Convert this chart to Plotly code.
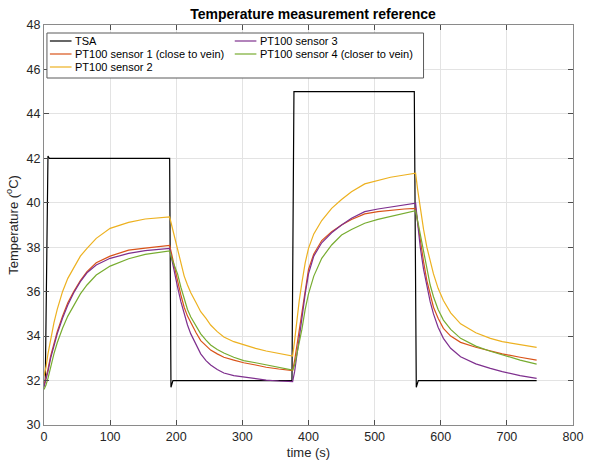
import plotly.graph_objects as go

# ---- data ----
t_tsa = [0, 2, 6, 8, 190, 192, 195, 375, 378, 560, 563, 566, 745]
v_tsa = [32.0, 32.0, 42.1, 42.0, 42.0, 31.7, 32.0, 32.0, 45.0, 45.0, 31.7, 32.0, 32.0]

t_s = [0, 3, 6, 10, 15, 20, 28, 36, 45, 55, 65, 79, 100, 128, 153, 175, 190,
       193, 197, 202, 207, 212, 217, 222, 230, 237, 245, 252, 262, 272, 287, 302, 320, 336, 355, 376,
       379, 382, 386, 390, 395, 400, 408, 420, 435, 450, 465, 485, 505, 524, 545, 562,
       565, 569, 574, 579, 584, 589, 596, 604, 615, 630, 653, 675, 693, 720, 745]

s1 = [31.8, 32.1, 32.5, 33.1, 33.7, 34.2, 34.9, 35.5, 36.0, 36.5, 36.9, 37.3, 37.6, 37.87, 37.96, 38.03, 38.08,
      37.7, 37.1, 36.5, 35.85, 35.3, 34.9, 34.6, 34.15, 33.8, 33.55, 33.37, 33.2, 33.05, 32.92, 32.8, 32.7, 32.6, 32.52, 32.45,
      32.9, 33.5, 34.3, 35.1, 36.2, 37.0, 37.7, 38.3, 38.7, 39.0, 39.25, 39.5, 39.6, 39.67, 39.72, 39.75,
      39.1, 38.3, 37.35, 36.5, 35.85, 35.3, 34.8, 34.35, 34.0, 33.72, 33.5, 33.33, 33.2, 33.05, 32.92]

s2 = [32.2, 32.6, 33.2, 33.9, 34.6, 35.2, 36.0, 36.6, 37.1, 37.6, 37.95, 38.4, 38.85, 39.12, 39.27, 39.33, 39.36,
      39.0, 38.5, 37.9, 37.25, 36.7, 36.3, 35.95, 35.5, 35.1, 34.8, 34.5, 34.2, 33.96, 33.75, 33.6, 33.45, 33.33, 33.22, 33.1,
      33.8, 34.6, 35.6, 36.4, 37.3, 37.95, 38.6, 39.2, 39.75, 40.15, 40.5, 40.85, 41.0, 41.15, 41.25, 41.33,
      40.6, 39.7, 38.8, 38.0, 37.35, 36.8, 36.15, 35.6, 35.05, 34.55, 34.15, 33.9, 33.75, 33.6, 33.49]

s3 = [31.7, 32.0, 32.4, 33.0, 33.6, 34.1, 34.8, 35.4, 35.95, 36.45, 36.85, 37.2, 37.5, 37.72, 37.85, 37.92, 37.95,
      37.5, 36.85, 36.2, 35.55, 35.0, 34.5, 34.1, 33.6, 33.2, 32.9, 32.7, 32.5, 32.34, 32.22, 32.15, 32.08, 32.02, 31.98, 31.95,
      32.4, 33.0, 33.9, 34.8, 35.9, 36.8, 37.6, 38.2, 38.65, 39.0, 39.3, 39.6, 39.72, 39.8, 39.9, 39.98,
      39.1, 38.0, 37.0, 36.2, 35.55, 35.0, 34.4, 33.9, 33.45, 33.07, 32.75, 32.55, 32.4, 32.22, 32.1]

s4 = [31.6, 31.8, 32.1, 32.6, 33.2, 33.7, 34.35, 34.9, 35.4, 35.9, 36.3, 36.75, 37.15, 37.48, 37.68, 37.78, 37.83,
      37.5, 37.2, 36.8, 36.2, 35.65, 35.2, 34.86, 34.45, 34.1, 33.82, 33.6, 33.4, 33.24, 33.05, 32.9, 32.8, 32.7, 32.58, 32.47,
      32.7, 33.1, 33.7, 34.3, 35.2, 35.9, 36.7, 37.5, 38.1, 38.55, 38.8, 39.08, 39.25, 39.37, 39.52, 39.64,
      39.2, 38.6, 37.75, 36.97, 36.3, 35.77, 35.2, 34.72, 34.3, 33.9, 33.55, 33.32, 33.15, 32.92, 32.74]

names = ["TSA", "PT100 sensor 1 (close to vein)", "PT100 sensor 2",
         "PT100 sensor 3", "PT100 sensor 4 (closer to vein)"]
colors = ["#000000", "#D95319", "#EDB120", "#7E2F8E", "#77AC30"]
# legend placement: (column, row) for each series, column-major like MATLAB NumColumns=2
leg_pos = [(0, 0), (0, 1), (0, 2), (1, 0), (1, 1)]

FONT = "Liberation Sans, Arial, Helvetica, sans-serif"

W, H = 595, 470
ML, MR, MT, MB = 44, 13, 25, 45
PW, PH = W - ML - MR, H - MT - MB

fig = go.Figure()
fig.add_trace(go.Scatter(x=t_tsa, y=v_tsa, mode="lines", name=names[0],
                         line=dict(color=colors[0], width=1.2), showlegend=False))
for i, s in enumerate([s1, s2, s3, s4], start=1):
    fig.add_trace(go.Scatter(x=t_s, y=s, mode="lines", name=names[i],
                             line=dict(color=colors[i], width=1.2), showlegend=False))

# ---- manual legend (MATLAB-like compact box) ----
def px_x(px):
    return (px - ML) / PW

def px_y(py):
    return (H - MB - py) / PH

box_l, box_r, box_t, box_b = 47, 430, 33, 78
row_y = [41, 54, 67]
col_line = [(50, 72), (238, 260)]
col_text = [74, 262]

shapes = [dict(type="rect", xref="paper", yref="paper", layer="above",
               x0=px_x(box_l), x1=px_x(box_r), y0=px_y(box_b), y1=px_y(box_t),
               fillcolor="white", line=dict(color="#5a5a5a", width=1))]
annotations = []
for name, col, (c, r) in zip(names, colors, leg_pos):
    yy = px_y(row_y[r])
    shapes.append(dict(type="line", xref="paper", yref="paper", layer="above",
                       x0=px_x(col_line[c][0]), x1=px_x(col_line[c][1]), y0=yy, y1=yy,
                       line=dict(color=col, width=1.2)))
    annotations.append(dict(text=name, xref="paper", yref="paper", x=px_x(col_text[c]), y=yy,
                            xanchor="left", yanchor="middle", showarrow=False,
                            font=dict(family=FONT, size=11, color="#000000")))

axis_common = dict(showgrid=True, gridcolor="#e3e3e3", gridwidth=1,
                   showline=True, linecolor="#8a8a8a", linewidth=1, mirror="ticks",
                   ticks="inside", ticklen=5, tickcolor="#4d4d4d",
                   tickfont=dict(family=FONT, size=12.5, color="#262626"),
                   zeroline=False)

fig.update_layout(
    width=W, height=H,
    margin=dict(l=ML, r=MR, t=MT, b=MB),
    paper_bgcolor="white", plot_bgcolor="white",
    title=dict(text="<b>Temperature measurement reference</b>", x=313 / W, xanchor="center",
               y=1 - 14 / H, yanchor="middle",
               font=dict(family=FONT, size=14, color="#000000")),
    xaxis=dict(range=[0, 800], dtick=100,
               title=dict(text="time (s)", font=dict(family=FONT, size=13, color="#262626"), standoff=4),
               **axis_common),
    yaxis=dict(range=[30, 48], dtick=2,
               title=dict(text="Temperature (<sup>o</sup>C)", font=dict(family=FONT, size=13, color="#262626"), standoff=5),
               **axis_common),
    shapes=shapes,
    annotations=annotations,
    showlegend=False,
)

fig.write_html("out.html")
